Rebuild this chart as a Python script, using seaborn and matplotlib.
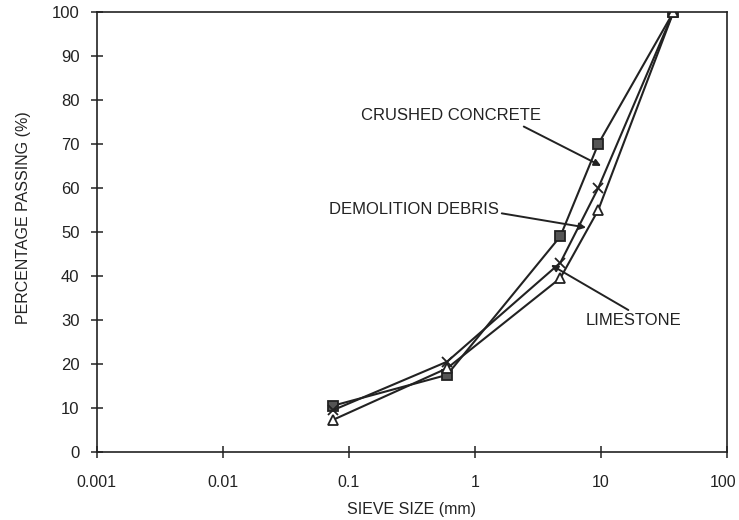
import matplotlib
matplotlib.use("Agg")
import matplotlib.pyplot as plt
import matplotlib.transforms as mtrans
import seaborn as sns
import pandas as pd
from matplotlib.ticker import NullLocator

sieve_mm = [0.075, 0.6, 4.75, 9.5, 37.5]
crushed_concrete = [10.5, 17.5, 49, 70, 100]
demolition_debris = [9.5, 20.5, 43, 60, 100]
limestone = [7.3, 19, 39.5, 55, 100]
series_names = ["CRUSHED CONCRETE", "DEMOLITION DEBRIS", "LIMESTONE"]
x_ticks = [0.001, 0.01, 0.1, 1, 10, 100]
x_tick_labels = ["0.001", "0.01", "0.1", "1", "10", "100"]
y_ticks = [0, 10, 20, 30, 40, 50, 60, 70, 80, 90, 100]

sns.set_theme(style="white")
plt.rcParams["font.family"] = ["Liberation Sans", "DejaVu Sans"]

fig = plt.figure(figsize=(7.39, 5.2), dpi=100)
ax = fig.add_axes([0.131, 0.131, 0.853, 0.846])

ink = "#222222"
styles = [("s", "#555555", 6.5), ("x", ink, 6.5), ("^", "white", 6.5)]
for name, vals, (mk, face, ms) in zip(series_names, [crushed_concrete, demolition_debris, limestone], styles):
    d = pd.DataFrame({"size": sieve_mm, "pct": vals})
    sns.lineplot(data=d, x="size", y="pct", color=ink, marker=mk, markersize=ms,
                 markeredgewidth=1.3, markerfacecolor=face, markeredgecolor=ink,
                 linewidth=1.5, ax=ax, estimator=None, sort=False, legend=False)

ax.set_xscale("log")
ax.set_xlim(0.001, 100)
ax.set_ylim(0, 100)
ax.set_xticks(x_ticks)
ax.set_xticklabels(x_tick_labels)
ax.set_yticks(y_ticks)
ax.xaxis.set_minor_locator(NullLocator())
ax.tick_params(axis="both", direction="inout", length=9, width=1.1, colors=ink,
               labelsize=11.5, labelcolor=ink)
ax.tick_params(axis="x", pad=12, bottom=True)
ax.tick_params(axis="y", pad=8, left=True, labelsize=12)
for sp in ax.spines.values():
    sp.set_color(ink)
    sp.set_linewidth(1.2)

# nudge the last x tick label so it stays inside the figure
last = ax.get_xticklabels()[-1]
last.set_transform(last.get_transform() + mtrans.ScaledTranslation(-4 / 100, 0, fig.dpi_scale_trans))

ax.set_xlabel("SIEVE SIZE (mm)", fontsize=11.5, color=ink, labelpad=9)
ax.set_ylabel("PERCENTAGE PASSING (%)", fontsize=11.5, color=ink)
ax.yaxis.set_label_coords(-0.105, 0.532)

arrow = dict(arrowstyle="-|>", color=ink, lw=1.4, mutation_scale=10, shrinkA=0, shrinkB=0)
ax.annotate("CRUSHED CONCRETE", xy=(10.0, 65), xytext=(0.124, 76.4),
            fontsize=12, color=ink, va="center", ha="left",
            arrowprops=dict(arrow, relpos=(0.87, 0.0)))
ax.annotate("DEMOLITION DEBRIS", xy=(7.6, 51), xytext=(0.069, 55.2),
            fontsize=12, color=ink, va="center", ha="left",
            arrowprops=dict(arrow, relpos=(1.0, 0.25)))
ax.annotate("LIMESTONE", xy=(4.0, 42.5), xytext=(7.6, 29.8),
            fontsize=12, color=ink, va="center", ha="left",
            arrowprops=dict(arrow, relpos=(0.5, 1.0)))

fig.savefig("out.png", dpi=100)
